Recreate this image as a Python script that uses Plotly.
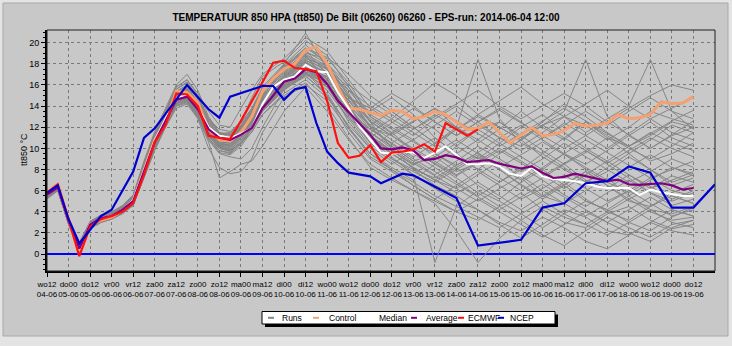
import plotly.graph_objects as go

# ---------------- data ----------------
tick_hours = list(range(0, 361, 12))
tick_day = ["wo12", "do00", "do12", "vr00", "vr12", "za00", "za12", "zo00", "zo12", "ma00", "ma12",
            "di00", "di12", "wo00", "wo12", "do00", "do12", "vr00", "vr12", "za00", "za12", "zo00",
            "zo12", "ma00", "ma12", "di00", "di12", "wo00", "wo12", "do00", "do12"]
tick_date = ["04-06", "05-06", "05-06", "06-06", "06-06", "07-06", "07-06", "08-06", "08-06", "09-06",
             "09-06", "10-06", "10-06", "11-06", "11-06", "12-06", "12-06", "13-06", "13-06", "14-06",
             "14-06", "15-06", "15-06", "16-06", "16-06", "17-06", "17-06", "18-06", "18-06", "19-06", "19-06"]

hours_6h = list(range(0, 361, 6))
hours_ecmwf = list(range(0, 241, 6))
hours_runs = [0, 6, 12, 18, 24, 30, 36, 42, 48, 54, 60, 66, 72, 78, 84, 90, 96, 102, 108, 114, 120,
              132, 144, 156, 168, 180, 192, 204, 216, 228, 240, 252, 264, 276, 288, 300, 312, 324,
              336, 348, 360]
hours_ncep = [0, 6, 12, 18, 30, 36, 48, 54, 60, 78, 90, 96, 102, 120, 126, 132, 138, 144, 150, 156,
              162, 168, 180, 186, 198, 204, 228, 240, 264, 276, 288, 300, 312, 324, 336, 348, 360, 372]

control = [5.9, 6.6, 3.3, 0.0, 2.8, 3.2, 3.5, 4.1, 5.0, 7.8, 10.8, 12.5, 15.4, 15.3, 14.3, 11.8, 10.8,
           10.7, 11.5, 13.0, 15.4, 16.6, 17.5, 18.0, 19.3, 19.6, 18.0, 15.8, 13.8, 13.7, 13.4, 13.1,
           13.6, 13.5, 12.8, 13.0, 13.5, 13.2, 12.5, 11.8, 11.9, 12.5, 11.5, 10.5, 11.3, 12.0, 11.2,
           11.3, 11.7, 12.4, 12.1, 12.2, 12.4, 13.2, 12.8, 12.9, 13.2, 14.4, 14.25, 14.3, 14.9]
median = [5.6, 6.3, 3.1, 0.4, 2.8, 3.4, 3.6, 4.2, 5.1, 7.9, 10.7, 12.8, 14.8, 15.0, 13.8, 12.0, 11.2,
          11.0, 11.4, 11.9, 14.2, 15.8, 16.5, 16.8, 17.9, 17.3, 17.2, 15.3, 13.8, 12.1, 10.8, 9.6, 9.5,
          9.7, 9.6, 9.1, 9.6, 10.2, 9.4, 8.5, 8.5, 8.6, 8.3, 7.6, 7.4, 8.2, 7.35, 7.1, 7.0, 6.9, 6.7,
          6.4, 6.25, 6.25, 6.25, 5.6, 6.1, 5.85, 5.7, 5.5, 5.5]
average = [5.6, 6.3, 3.1, 0.5, 2.8, 3.4, 3.6, 4.2, 5.0, 7.8, 10.6, 12.6, 14.6, 14.9, 13.7, 11.8, 11.0,
           10.8, 11.3, 11.9, 13.8, 15.0, 16.3, 16.6, 17.5, 17.2, 16.1, 14.5, 13.4, 12.3, 11.3, 10.0,
           9.9, 10.1, 9.8, 8.9, 9.0, 9.35, 9.15, 8.7, 8.8, 8.9, 8.55, 8.3, 8.1, 8.3, 7.7, 7.2, 7.3,
           7.6, 7.35, 7.1, 6.9, 7.05, 6.6, 6.55, 6.6, 6.7, 6.5, 6.1, 6.25]
ecmwf = [5.8, 6.6, 3.3, -0.2, 2.6, 3.3, 3.6, 4.0, 4.8, 7.5, 10.6, 12.2, 15.2, 15.1, 14.0, 11.2, 11.0,
         10.9, 12.6, 14.4, 16.3, 18.1, 18.3, 17.6, 17.5, 17.3, 14.5, 10.5, 9.1, 9.3, 10.3, 8.7, 9.6,
         9.7, 9.9, 10.4, 9.7, 12.4, 11.8, 11.2, 11.8]
ncep = [5.8, 6.5, 3.3, 1.0, 3.6, 4.2, 7.8, 11.0, 11.9, 16.0, 13.7, 12.9, 14.9, 15.9, 15.9, 14.6, 15.6,
        15.8, 12.4, 9.7, 8.6, 7.7, 7.35, 6.7, 7.6, 7.45, 5.3, 0.8, 1.35, 4.4, 4.8, 6.7, 6.9, 8.3, 7.7,
        4.4, 4.4, 6.6]

runs = [
    [5.4, 6.2, 3.0, 0.4, 2.5, 3.1, 3.5, 4.0, 4.8, 7.5, 10.2, 12.5, 14.6, 15.5, 14.2, 12.0, 10.5, 10.2, 11.0, 12.5, 14.8,
     17.0, 18.5, 17.8, 15.0, 12.0, 11.2, 12.5, 13.8, 12.0, 10.5, 11.8, 13.5, 12.0, 10.8, 12.5, 11.0, 9.5, 10.8, 12.2, 11.5],
    [5.8, 6.4, 3.3, 0.8, 2.9, 3.4, 3.8, 4.4, 5.3, 8.2, 11.0, 13.2, 15.4, 16.0, 14.8, 12.8, 11.5, 11.2, 12.0, 13.2, 15.5,
     17.8, 19.5, 18.2, 14.2, 10.8, 9.5, 8.2, 7.0, 6.2, 7.5, 8.8, 7.2, 5.5, 4.8, 6.0, 7.2, 5.5, 4.2, 3.8, 4.5],
    [5.2, 6.0, 2.8, 0.2, 2.4, 3.0, 3.3, 3.9, 4.6, 7.2, 9.8, 12.0, 14.0, 14.5, 13.0, 10.8, 9.5, 9.2, 9.0, 10.0, 12.0,
     15.6, 16.8, 15.2, 12.0, 9.2, 8.0, 6.5, 5.2, 4.0, 3.2, 4.5, 5.8, 4.2, 3.0, 2.5, 3.8, 4.5, 3.2, 2.4, 2.8],
    [5.6, 6.5, 3.4, 1.0, 3.0, 3.6, 3.9, 4.5, 5.5, 8.6, 11.4, 13.5, 15.8, 16.5, 15.2, 13.5, 12.2, 12.0, 13.8, 15.5, 17.0,
     18.5, 20.5, 19.2, 16.5, 13.8, 12.5, 11.2, 12.8, 14.0, 12.5, 11.0, 10.2, 11.5, 13.0, 12.2, 10.8, 12.0, 13.5, 12.8, 12.2],
    [5.5, 6.3, 3.1, 0.5, 2.6, 3.2, 3.6, 4.1, 4.9, 7.6, 10.4, 12.6, 14.4, 14.6, 13.2, 11.2, 10.0, 9.8, 10.5, 11.5, 13.2,
     15.0, 16.2, 14.0, 11.0, 8.2, 7.0, 6.0, 4.8, 2.2, -0.8, 1.5, 3.2, 4.5, 3.5, 2.8, 4.0, 5.2, 4.0, 3.2, 3.5],
    [5.7, 6.4, 3.2, 0.7, 2.8, 3.4, 3.7, 4.3, 5.1, 8.0, 10.8, 13.0, 15.0, 15.2, 13.8, 12.0, 10.8, 10.5, 11.5, 12.8, 14.6,
     16.8, 18.2, 17.0, 14.8, 13.5, 14.8, 13.2, 11.0, 9.5, 10.8, 12.5, 11.2, 9.8, 8.5, 9.6, 11.0, 10.2, 8.8, 9.5, 10.5],
    [5.3, 6.1, 2.9, 0.3, 2.5, 3.1, 3.4, 4.0, 4.7, 7.4, 10.0, 12.2, 14.2, 14.8, 13.4, 11.5, 10.2, 10.0, 11.0, 12.2, 14.0,
     16.0, 17.2, 16.8, 13.8, 11.5, 10.2, 8.8, 9.5, 8.2, 6.5, 5.2, 6.8, 8.0, 6.5, 5.0, 4.2, 5.5, 6.8, 5.5, 4.8],
    [5.9, 6.6, 3.5, 1.1, 3.1, 3.7, 4.0, 4.6, 5.6, 8.8, 11.6, 13.8, 16.0, 17.0, 15.5, 13.0, 11.5, 11.0, 11.8, 13.0, 15.0,
     17.2, 18.8, 16.2, 12.5, 10.0, 11.5, 13.0, 11.8, 10.2, 9.0, 10.5, 12.0, 13.2, 11.5, 10.0, 8.8, 10.2, 11.5, 10.5, 9.8],
    [5.4, 6.2, 3.0, 0.5, 2.6, 3.2, 3.5, 4.1, 4.8, 7.5, 10.3, 12.4, 14.5, 14.9, 13.5, 11.4, 10.3, 10.4, 11.2, 12.4, 14.2,
     16.2, 17.6, 15.8, 12.8, 10.2, 8.8, 7.5, 6.2, 5.0, 4.2, 2.8, 1.5, 2.8, 4.2, 3.5, 2.2, 1.8, 3.0, 4.2, 3.6],
    [5.6, 6.3, 3.1, 0.6, 2.7, 3.3, 3.6, 4.2, 5.0, 7.9, 10.7, 12.8, 14.8, 15.1, 13.7, 11.9, 10.9, 10.9, 11.6, 12.9, 14.7,
     16.6, 18.0, 17.2, 15.5, 14.0, 12.8, 14.5, 16.2, 15.0, 13.2, 14.5, 15.8, 14.2, 13.0, 14.2, 15.5, 14.0, 12.8, 13.8, 14.8],
    [5.5, 6.2, 3.0, 0.4, 2.6, 3.2, 3.5, 4.0, 4.9, 7.7, 10.5, 12.7, 14.7, 15.0, 13.6, 11.6, 10.4, 10.2, 11.2, 12.5, 14.3,
     16.3, 17.4, 16.0, 13.2, 11.0, 9.8, 10.8, 9.2, 7.8, 8.6, 7.2, 6.0, 7.2, 8.5, 7.0, 6.2, 7.5, 6.4, 5.2, 6.0],
    [5.7, 6.4, 3.3, 0.8, 2.9, 3.5, 3.8, 4.4, 5.3, 8.3, 11.2, 13.4, 15.2, 15.6, 14.0, 12.2, 11.0, 10.8, 11.8, 13.2, 15.0,
     17.4, 19.0, 18.5, 16.2, 13.0, 11.5, 9.8, 8.5, 10.2, 11.8, 10.5, 9.2, 8.0, 9.5, 10.8, 9.6, 8.4, 7.2, 8.0, 8.8],
    [5.3, 6.0, 2.9, 0.2, 2.4, 3.0, 3.4, 3.9, 4.6, 7.2, 9.9, 12.0, 13.8, 14.2, 12.8, 10.0, 8.2, 7.6, 7.8, 9.0, 11.5,
     14.8, 16.0, 14.5, 11.8, 9.5, 8.2, 7.0, 8.5, 7.2, 5.8, 4.5, 3.2, 1.8, 0.8, 2.2, 3.5, 2.5, 1.6, 2.8, 3.2],
    [5.8, 6.5, 3.4, 0.9, 3.0, 3.6, 3.9, 4.5, 5.4, 8.5, 11.2, 13.4, 15.6, 16.2, 14.6, 12.6, 11.4, 11.5, 12.4, 13.8, 15.8,
     18.0, 20.9, 17.5, 14.0, 12.2, 13.5, 12.0, 10.5, 11.8, 13.2, 12.0, 10.8, 12.5, 14.2, 13.0, 11.5, 10.2, 11.2, 12.5, 12.0],
    [5.5, 6.3, 3.2, 0.6, 2.7, 3.3, 3.7, 4.2, 5.0, 7.8, 10.5, 12.6, 14.6, 14.8, 13.3, 11.3, 10.1, 9.9, 10.8, 12.0, 13.8,
     15.8, 17.0, 16.2, 13.0, 10.5, 9.0, 7.8, 6.8, 8.0, 9.2, 8.0, 6.5, 5.2, 6.5, 7.8, 6.5, 5.0, 4.5, 5.8, 6.6],
    [5.6, 6.4, 3.1, 0.5, 2.8, 3.4, 3.7, 4.3, 5.2, 8.1, 10.9, 13.1, 15.1, 15.4, 14.0, 12.1, 11.1, 11.1, 11.9, 13.3, 15.2,
     17.5, 18.9, 17.8, 15.2, 12.0, 10.2, 8.8, 7.5, 8.8, 10.2, 9.0, 7.8, 9.0, 10.5, 9.2, 8.0, 6.8, 7.8, 9.0, 8.2],
    [5.4, 6.1, 2.9, 0.4, 2.5, 3.1, 3.5, 4.0, 4.8, 7.6, 10.3, 12.4, 14.3, 14.6, 13.2, 11.0, 9.8, 9.5, 10.4, 11.8, 13.5,
     15.5, 17.0, 16.8, 14.5, 12.2, 10.8, 9.5, 8.2, 6.8, 5.5, 6.8, 8.2, 7.0, 5.6, 4.5, 5.8, 7.0, 5.8, 4.6, 5.2],
    [5.7, 6.5, 3.3, 0.8, 2.9, 3.5, 3.8, 4.4, 5.3, 8.3, 11.1, 13.3, 15.3, 15.8, 14.3, 12.4, 11.3, 11.3, 12.2, 13.5, 15.4,
     17.6, 19.2, 18.0, 16.0, 14.5, 13.2, 11.8, 13.0, 14.2, 15.5, 14.0, 12.8, 14.0, 15.2, 14.0, 12.5, 13.8, 15.0, 16.0, 15.5],
    [5.5, 6.2, 3.0, 0.5, 2.6, 3.2, 3.6, 4.1, 4.9, 7.7, 10.4, 12.5, 14.5, 14.7, 13.4, 11.5, 10.5, 10.6, 11.4, 12.6, 14.4,
     16.5, 17.8, 16.0, 13.5, 11.8, 10.5, 9.2, 10.5, 12.0, 18.4, 12.8, 10.5, 9.5, 11.0, 12.5, 11.2, 10.0, 9.0, 10.2, 11.5],
    [5.6, 6.3, 3.2, 0.7, 2.8, 3.3, 3.6, 4.2, 5.0, 7.9, 10.6, 12.7, 14.7, 15.1, 13.8, 12.0, 10.9, 10.8, 11.6, 12.8, 14.6,
     16.8, 18.2, 16.5, 13.8, 11.2, 9.8, 8.5, 9.2, 10.5, 11.8, 12.5, 11.0, 12.2, 13.0, 11.5, 12.8, 14.0, 18.4, 13.5, 11.8],
    [5.4, 6.1, 3.0, 0.3, 2.5, 3.1, 3.5, 4.0, 4.7, 7.4, 10.1, 12.3, 14.2, 14.5, 13.0, 11.0, 9.8, 9.6, 10.5, 11.8, 13.5,
     15.8, 17.2, 15.5, 12.8, 11.5, 12.8, 11.5, 10.2, 11.8, 13.0, 12.0, 10.8, 12.2, 13.5, 18.4, 13.0, 11.2, 10.0, 11.2, 12.0],
    [5.8, 6.6, 3.4, 1.0, 3.1, 3.6, 3.9, 4.5, 5.5, 8.6, 11.4, 13.6, 15.8, 16.5, 15.0, 12.8, 11.8, 11.6, 12.5, 14.8, 16.8,
     18.2, 20.2, 18.8, 15.8, 12.5, 10.0, 8.0, 6.5, 5.5, 4.2, 3.0, 2.2, 3.5, 2.5, 1.2, 0.5, 1.8, 3.0, 2.2, 1.8],
    [5.5, 6.3, 3.1, 0.6, 2.7, 3.2, 3.6, 4.2, 5.0, 7.8, 10.5, 12.7, 14.6, 14.9, 13.5, 11.6, 10.5, 10.4, 11.3, 12.6, 14.4,
     16.4, 17.8, 16.2, 13.8, 11.2, 9.5, 8.2, 7.0, 5.8, 6.8, 5.5, 4.2, 5.5, 6.8, 5.2, 4.0, 3.2, 4.5, 5.5, 4.8],
    [5.6, 6.4, 3.2, 0.7, 2.8, 3.4, 3.8, 4.3, 5.1, 8.0, 10.8, 13.0, 15.0, 15.3, 13.9, 12.0, 11.0, 11.2, 12.0, 13.4, 15.4,
     17.6, 19.5, 18.6, 17.0, 15.0, 13.5, 12.0, 10.5, 9.2, 8.0, 9.5, 10.8, 9.2, 8.0, 6.8, 8.2, 9.5, 8.0, 6.8, 7.5],
    [5.3, 6.0, 2.8, 0.2, 2.4, 3.0, 3.3, 3.8, 4.6, 7.3, 10.0, 12.1, 14.0, 14.3, 12.9, 10.6, 7.2, 7.8, 8.5, 8.8, 10.2,
     13.5, 15.8, 13.5, 10.8, 8.5, 7.2, 6.0, 5.0, 4.0, 5.2, 4.0, 2.8, 1.6, 2.8, 4.0, 3.0, 2.0, 1.2, 2.5, 3.2],
    [5.7, 6.5, 3.3, 0.8, 2.9, 3.5, 3.8, 4.4, 5.3, 8.2, 11.0, 13.2, 15.2, 15.7, 14.2, 12.3, 11.2, 11.0, 12.0, 13.5, 15.3,
     17.3, 18.6, 17.2, 14.8, 13.8, 15.2, 14.0, 12.5, 11.2, 12.5, 13.8, 12.5, 11.0, 12.2, 13.5, 12.2, 13.5, 14.8, 13.5, 12.8],
    [5.5, 6.2, 3.0, 0.5, 2.6, 3.2, 3.5, 4.1, 4.9, 7.6, 10.3, 12.5, 14.4, 14.7, 13.3, 11.4, 10.2, 10.1, 11.0, 12.2, 14.0,
     16.0, 17.3, 15.0, 11.5, 9.0, 7.8, 6.5, 5.2, 6.5, 7.8, 6.5, 5.2, 6.2, 7.5, 6.2, 5.0, 6.0, 7.2, 6.0, 5.5],
    [5.6, 6.3, 3.1, 0.6, 2.7, 3.3, 3.7, 4.2, 5.1, 7.9, 10.7, 12.9, 14.9, 15.2, 13.8, 11.8, 10.7, 10.6, 11.5, 12.8, 14.5,
     16.6, 18.0, 17.2, 14.8, 12.5, 11.2, 10.0, 8.8, 7.5, 8.8, 10.0, 8.8, 7.5, 6.2, 7.5, 8.8, 7.5, 6.2, 7.0, 7.8],
    [5.4, 6.2, 3.0, 0.4, 2.6, 3.1, 3.5, 4.0, 4.8, 7.5, 10.2, 12.4, 14.4, 14.7, 13.2, 11.2, 10.0, 9.8, 10.6, 11.9, 13.7,
     15.7, 17.0, 15.8, 13.2, 10.8, 9.2, 7.5, -0.8, 4.5, 6.0, 5.0, 3.8, 2.5, 3.8, 5.0, 4.2, 3.0, 2.2, 3.5, 4.4],
    [5.6, 6.4, 3.2, 0.7, 2.8, 3.4, 3.7, 4.3, 5.2, 8.1, 10.9, 13.1, 15.0, 15.3, 13.9, 12.1, 11.0, 10.9, 11.8, 13.1, 14.9,
     16.9, 18.4, 17.0, 14.2, 11.8, 10.5, 11.8, 13.2, 12.0, 10.8, 9.5, 10.8, 12.2, 11.0, 9.8, 8.6, 9.8, 11.0, 10.0, 9.2],
    [5.5, 6.4, 3.2, 0.6, 2.7, 3.3, 3.7, 4.2, 5.0, 7.9, 10.6, 12.8, 14.8, 15.4, 14.0, 12.0, 10.8, 10.6, 11.4, 12.7, 14.6,
     16.7, 18.1, 16.6, 13.5, 10.5, 9.0, 8.0, 7.2, 8.4, 9.6, 8.2, 7.0, 8.2, 9.5, 8.0, 6.8, 5.8, 7.0, 8.2, 7.4],
    [5.3, 6.1, 2.9, 0.3, 2.5, 3.1, 3.4, 4.0, 4.7, 7.3, 10.0, 12.2, 14.1, 14.4, 13.0, 10.9, 9.6, 9.4, 10.2, 11.6, 13.2,
     15.2, 16.5, 14.8, 12.2, 10.0, 8.5, 9.8, 11.0, 9.5, 8.0, 6.8, 8.0, 9.5, 8.2, 6.8, 7.8, 9.2, 8.0, 6.5, 7.2],
    [5.7, 6.5, 3.3, 0.8, 2.9, 3.5, 3.8, 4.4, 5.3, 8.4, 11.2, 13.4, 15.4, 15.9, 14.4, 12.5, 11.4, 11.4, 12.4, 13.7, 15.6,
     17.9, 19.8, 18.0, 15.5, 13.0, 11.8, 10.6, 9.5, 8.4, 9.6, 11.0, 12.2, 10.8, 9.5, 8.5, 9.8, 11.2, 12.5, 11.0, 10.2],
    [5.5, 6.2, 3.0, 0.5, 2.6, 3.2, 3.6, 4.1, 4.9, 7.7, 10.4, 12.6, 14.5, 14.8, 13.4, 11.5, 10.3, 10.2, 11.0, 12.3, 14.1,
     16.1, 17.5, 16.4, 14.0, 11.5, 10.0, 8.6, 7.4, 6.2, 5.0, 6.2, 7.4, 6.0, 4.8, 3.6, 4.8, 6.0, 4.8, 3.6, 4.2],
    [5.6, 6.3, 3.2, 0.6, 2.8, 3.3, 3.7, 4.2, 5.1, 8.0, 10.8, 12.9, 14.9, 15.2, 13.9, 12.0, 11.0, 10.9, 11.8, 13.0, 14.8,
     16.9, 18.3, 17.5, 15.8, 13.2, 12.0, 10.8, 12.2, 13.5, 12.2, 11.0, 9.8, 11.0, 12.4, 11.2, 10.0, 11.4, 12.8, 11.5, 10.8],
    [5.4, 6.1, 2.9, 0.4, 2.5, 3.1, 3.5, 4.0, 4.8, 7.5, 10.2, 12.3, 14.3, 14.6, 13.2, 11.2, 10.0, 9.7, 10.6, 11.9, 13.6,
     15.6, 16.9, 15.0, 12.0, 9.5, 8.0, 6.8, 5.5, 4.5, 3.5, 2.5, 3.8, 5.0, 3.8, 2.8, 1.8, 3.0, 4.2, 3.0, 2.5],
    [5.8, 6.5, 3.4, 0.9, 3.0, 3.6, 3.9, 4.5, 5.4, 8.4, 11.3, 13.5, 15.6, 16.3, 14.8, 12.7, 11.5, 11.3, 12.2, 13.6, 15.6,
     17.7, 19.3, 17.0, 13.8, 11.0, 12.4, 13.8, 12.5, 11.2, 12.5, 13.6, 12.4, 11.2, 10.0, 11.2, 12.5, 11.3, 10.0, 11.3, 12.6],
    [5.5, 6.3, 3.1, 0.5, 2.7, 3.3, 3.6, 4.2, 5.0, 7.8, 10.6, 12.7, 14.7, 15.0, 13.6, 11.7, 10.6, 10.5, 11.3, 12.6, 14.4,
     16.4, 17.7, 16.0, 13.4, 11.0, 9.5, 8.2, 7.0, 8.2, 9.4, 8.0, 6.6, 5.4, 6.6, 7.8, 6.5, 5.2, 6.2, 7.4, 6.8],
    [5.6, 6.4, 3.2, 0.7, 2.8, 3.4, 3.7, 4.3, 5.2, 8.1, 10.9, 13.1, 15.1, 15.5, 14.1, 12.2, 11.1, 11.0, 11.9, 13.2, 15.1,
     17.1, 18.6, 17.6, 15.0, 12.6, 11.2, 9.8, 8.6, 7.4, 8.6, 9.8, 8.6, 7.4, 8.6, 9.8, 8.5, 7.2, 5.8, 5.0, 5.8],
    [5.4, 6.2, 3.0, 0.4, 2.6, 3.1, 3.5, 4.0, 4.8, 7.6, 10.3, 12.4, 14.4, 14.7, 13.2, 11.3, 10.1, 9.9, 10.8, 12.0, 13.8,
     15.9, 17.1, 16.2, 13.5, 11.2, 9.8, 8.4, 9.6, 10.8, 9.5, 8.2, 9.4, 10.6, 9.4, 8.2, 7.0, 8.2, 9.4, 8.2, 7.6],
    [5.7, 6.4, 3.3, 0.8, 2.9, 3.5, 3.8, 4.4, 5.3, 8.2, 11.0, 13.2, 15.2, 15.6, 14.1, 12.3, 11.2, 11.1, 12.1, 13.4, 15.3,
     17.4, 18.8, 17.5, 14.5, 12.0, 10.4, 9.0, 7.8, 6.6, 5.4, 4.2, 5.4, 6.6, 5.4, 4.2, 3.0, 4.2, 5.4, 4.2, 3.6],
    [5.5, 6.3, 3.1, 0.6, 2.7, 3.2, 3.6, 4.1, 5.0, 7.8, 10.5, 12.6, 14.6, 14.9, 13.5, 11.5, 10.4, 10.3, 11.2, 12.5, 14.3,
     16.3, 17.6, 16.8, 14.6, 12.8, 11.4, 12.6, 13.8, 12.6, 11.4, 10.2, 11.4, 12.6, 13.8, 12.6, 11.4, 10.2, 11.4, 12.6, 13.6],
]

title_text = "TEMPERATUUR 850 HPA (tt850) De Bilt (06260) 06260 - EPS-run: 2014-06-04 12:00"
y_title = "tt850 °C"
legend_names = ["Runs", "Control", "Median", "Average", "ECMWF", "NCEP"]
legend_colors = ["#868686", "#f4a070", "#ffffff", "#800080", "#ff1010", "#0000d0"]

# ---------------- figure ----------------
W, H = 732, 346
ML, MR, MT, MB = 47, 17, 30, 75
PW, PH = W - ML - MR, H - MT - MB


def px(xp):
    return (xp - ML) / PW


def py(yp):
    return (H - MB - yp) / PH


fig = go.Figure()
for r in runs:
    fig.add_trace(go.Scatter(x=hours_runs, y=r, mode="lines",
                             line=dict(color=legend_colors[0], width=1), hoverinfo="skip"))
fig.add_trace(go.Scatter(x=hours_6h, y=control, mode="lines", line=dict(color=legend_colors[1], width=3)))
fig.add_trace(go.Scatter(x=hours_6h, y=median, mode="lines", line=dict(color=legend_colors[2], width=2)))
fig.add_trace(go.Scatter(x=hours_6h, y=average, mode="lines", line=dict(color=legend_colors[3], width=2.2)))
fig.add_trace(go.Scatter(x=hours_ecmwf, y=ecmwf, mode="lines", line=dict(color=legend_colors[4], width=2.2)))
fig.add_trace(go.Scatter(x=hours_ncep, y=ncep, mode="lines", line=dict(color=legend_colors[5], width=2.2)))

ticktext = [f"{d}<br>{t}" for d, t in zip(tick_day, tick_date)]

shapes = []
# outer panel
shapes.append(dict(type="rect", xref="paper", yref="paper", x0=px(3), x1=px(728), y0=py(3), y1=py(336),
                   fillcolor="#c8c8c8", line=dict(color="#a8a8a8", width=1), layer="below"))
# plot frame
shapes.append(dict(type="rect", xref="paper", yref="paper", x0=0, x1=1, y0=0, y1=1,
                   line=dict(color="#202020", width=1), layer="above"))
# legend shadow + box
shapes.append(dict(type="rect", xref="paper", yref="paper", x0=px(265), x1=px(558), y0=py(314.5), y1=py(327),
                   fillcolor="#000000", line=dict(width=0)))
shapes.append(dict(type="rect", xref="paper", yref="paper", x0=px(262), x1=px(555), y0=py(311.5), y1=py(324),
                   fillcolor="#ffffff", line=dict(color="#000000", width=1)))

annotations = []
dash_x = [268, 313, 370, 411, 458, 498]
text_x = [280, 327, 377, 424, 466, 508]
ly = 317.8
for name, col, dx, tx in zip(legend_names, legend_colors, dash_x, text_x):
    shapes.append(dict(type="line", xref="paper", yref="paper", x0=px(dx), x1=px(dx + 6), y0=py(ly), y1=py(ly),
                       line=dict(color=col, width=2)))
    annotations.append(dict(text=name, xref="paper", yref="paper", x=px(tx), y=py(ly), xanchor="left",
                            yanchor="middle", showarrow=False,
                            font=dict(family="Liberation Sans, Arial", size=8.5, color="black")))

annotations.append(dict(text=y_title, xref="paper", yref="paper", x=px(24), y=py(150), textangle=-90,
                        xanchor="center", yanchor="middle", showarrow=False,
                        font=dict(family="Liberation Sans, Arial", size=9, color="black")))

fig.update_layout(
    width=W, height=H, margin=dict(l=ML, r=MR, t=MT, b=MB),
    paper_bgcolor="#e4e4e4", plot_bgcolor="#c0c0c0", showlegend=False,
    title=dict(text="<b>" + title_text + "</b>", x=0.5, xref="container", xanchor="center",
               y=1 - 17.5 / H, yref="container", yanchor="middle",
               font=dict(family="Liberation Sans, Arial", size=10, color="black")),
    shapes=shapes, annotations=annotations,
    xaxis=dict(range=[0, 372], tickmode="array", tickvals=tick_hours, ticktext=ticktext, tickangle=0,
               tickfont=dict(family="Liberation Sans, Arial", size=8, color="black"),
               showgrid=True, gridcolor="#7a7a7a", griddash="3px,3px", gridwidth=1,
               showline=True, linecolor="black", linewidth=2, ticks="outside", ticklen=4,
               tickcolor="black", zeroline=False, fixedrange=True),
    yaxis=dict(range=[-1.6, 21.2], tickmode="array", tickvals=list(range(0, 21, 2)),
               tickfont=dict(family="Liberation Sans, Arial", size=9, color="black"),
               showgrid=True, gridcolor="#7a7a7a", griddash="3px,3px", gridwidth=1,
               showline=True, linecolor="black", linewidth=2, ticks="outside", ticklen=4,
               tickcolor="black",
               minor=dict(dtick=0.5, ticks="outside", ticklen=2, tickcolor="black", showgrid=False),
               zeroline=True, zerolinecolor="#0000ff", zerolinewidth=2, fixedrange=True),
)

fig.write_html("out.html")
